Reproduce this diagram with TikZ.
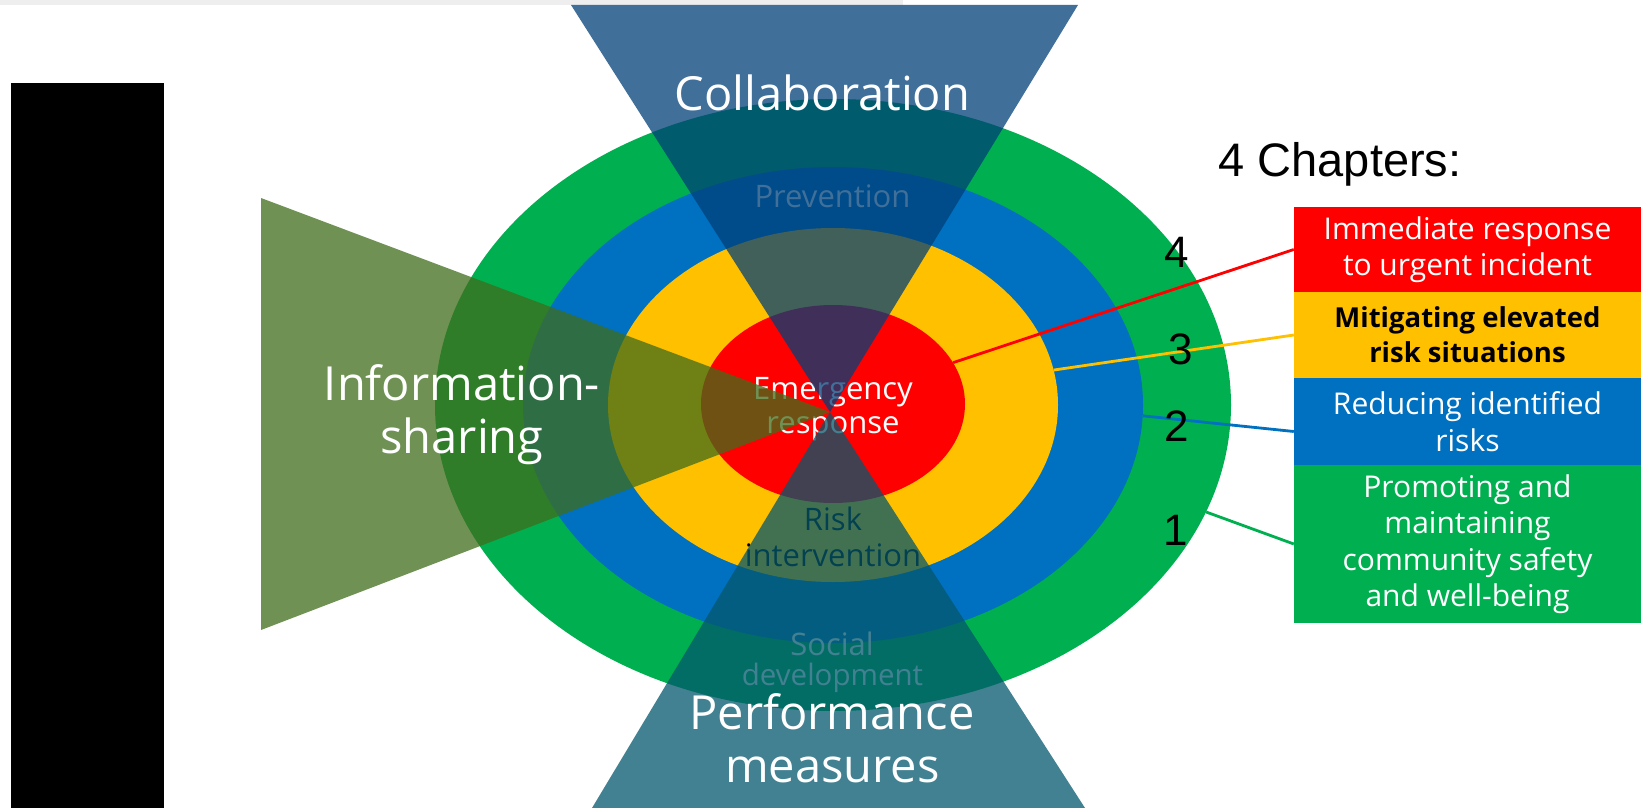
\documentclass[tikz,border=0pt]{standalone}
\usepackage{fontspec}
\newfontfamily\hfont{Open Sans}
\newfontfamily\afont{Liberation Sans}
\usetikzlibrary{shapes.geometric,calc}
\definecolor{cgreen}{RGB}{0,176,80}
\definecolor{cblue}{RGB}{0,112,192}
\definecolor{cyellow}{RGB}{255,192,0}
\definecolor{cred}{RGB}{255,0,0}
\definecolor{collabc}{RGB}{0,64,120}
\definecolor{perfc}{RGB}{4,87,109}
\definecolor{infoc}{RGB}{64,109,27}
\definecolor{stripc}{RGB}{238,238,238}
\begin{document}
\begin{tikzpicture}[x=1pt,y=-1pt,
  ring/.style={ellipse, draw=none, inner sep=0pt},
  chapbox/.style={rectangle, draw=none, inner sep=0pt, minimum width=347pt, align=center,
    font=\hfont\fontsize{30}{36.5}\selectfont},
  conn/.style={line width=2.8pt},
  biglabel/.style={anchor=base, text=white, font=\hfont\fontsize{47}{55}\selectfont},
  inlabel/.style={anchor=base, font=\hfont\fontsize{31}{34}\selectfont},
  numlabel/.style={font=\afont\fontsize{44}{44}\selectfont},
  overlay/.style={opacity=0.75}]
\useasboundingbox (0,0) rectangle (1647,808);
\fill[white] (0,0) rectangle (1647,808);
\fill[stripc] (0,0) rectangle (903,5);
\fill[black] (10.5,83) rectangle (164,808);
% rings
\node[ring, fill=cgreen, minimum width=796pt, minimum height=612pt] (gE) at (833,405) {};
\node[ring, fill=cblue, minimum width=620pt, minimum height=476pt] (bE) at (833,405) {};
\node[ring, fill=cyellow, minimum width=450pt, minimum height=354pt] (yE) at (833,405) {};
\node[ring, fill=cred, minimum width=264pt, minimum height=198pt] (rE) at (833,404) {};
% chapter boxes
\node[chapbox, fill=cred, minimum height=85pt, text=white] (rbox) at (1467.5,249.5) {Immediate response\\to urgent incident};
\node[chapbox, fill=cyellow, minimum height=86pt, text=black, font=\hfont\bfseries\fontsize{27.5}{35}\selectfont] (ybox) at (1467.5,335) {Mitigating elevated\\risk situations};
\node[chapbox, fill=cblue, minimum height=87pt, text=white] (bbox) at (1467.5,421.5) {Reducing identified\\risks};
\node[chapbox, fill=cgreen, minimum height=158pt, text=white] (gbox) at (1467.5,544) {Promoting and\\maintaining\\community safety\\and well-being};
% connectors
\draw[conn, cred] (rE.19) -- (rbox.west);
\draw[conn, cyellow] (yE.9) -- (ybox.west);
\draw[conn, cblue] (bE.-2.8) -- ($(bbox.west)+(0,10)$);
\draw[conn, cgreen] (gE.-16.6) -- (gbox.west);
% inner labels (under the overlays)
\node[inlabel, text=white] (prev) at (832.5,207) {Prevention};
\node[inlabel, text=white] (emer1) at (833,399) {Emergency};
\node[inlabel, text=white] (emer2) at (833,433) {response};
\node[inlabel, text=black] (risk1) at (833,530) {Risk};
\node[inlabel, text=black] (risk2) at (833,566.7) {intervention};
\node[inlabel, text=white] (soc1) at (832,655) {Social};
\node[inlabel, text=white, font=\hfont\fontsize{29.5}{34}\selectfont] (soc2) at (832.5,685) {development};
% translucent wedges
\fill[collabc, overlay] (571,5) -- (1078,5) -- (830,412) -- cycle;
\fill[perfc, overlay] (592,808) -- (1085,808) -- (830,412) -- cycle;
\fill[infoc, overlay] (261,198) -- (261,630) -- (830,412) -- cycle;
% big labels
\node[biglabel] (collab) at (822.5,110.5) {Collaboration};
\node[biglabel] (info1) at (462,400) {Information-};
\node[biglabel] (info2) at (462,453) {sharing};
\node[biglabel] (perf1) at (832,729) {Performance};
\node[biglabel] (perf2) at (832.5,782.5) {measures};
% numbers and heading
\node[numlabel] (n4) at (1177,252.5) {4};
\node[numlabel] (n3) at (1181,349) {3};
\node[numlabel] (n2) at (1177,426) {2};
\node[numlabel] (n1) at (1176,530) {1};
\node[anchor=base west, font=\afont\fontsize{47}{47}\selectfont] (chap) at (1215,176.7) {4 Chapters:};
\end{tikzpicture}
\end{document}
